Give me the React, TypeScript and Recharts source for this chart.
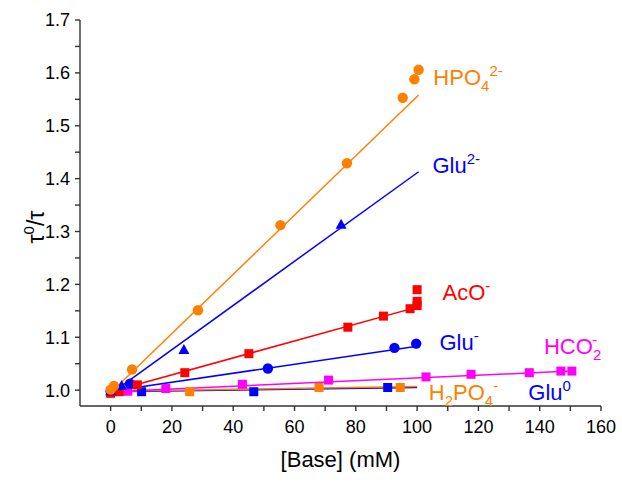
import { ComposedChart, Line, Scatter, XAxis, YAxis, ReferenceDot } from 'recharts';

const ORANGE = '#ff8000';
const BLUE = '#0000ff';
const RED = '#ff0000';
const MAGENTA = '#ff00ff';

// measured points
const hpo4Pts = [
  { x: 0, y: 1.001 }, { x: 1.1, y: 1.008 }, { x: 7, y: 1.039 }, { x: 28.5, y: 1.151 },
  { x: 55.4, y: 1.312 }, { x: 77.1, y: 1.429 }, { x: 95.3, y: 1.553 }, { x: 99.1, y: 1.588 },
  { x: 100.5, y: 1.606 },
];
const glu2Pts = [{ x: 0, y: 0.998 }, { x: 3.6, y: 1.008 }, { x: 23.9, y: 1.076 }, { x: 75.2, y: 1.313 }];
const acoPts = [
  { x: 0, y: 0.994 }, { x: 2.8, y: 0.997 }, { x: 8.7, y: 1.01 }, { x: 24.2, y: 1.033 },
  { x: 45.1, y: 1.069 }, { x: 77.4, y: 1.119 }, { x: 89, y: 1.14 }, { x: 97.7, y: 1.154 },
  { x: 100, y: 1.16 }, { x: 100, y: 1.168 }, { x: 100, y: 1.19 },
];
const gluMinusPts = [
  { x: 0, y: 0.998 }, { x: 6.3, y: 1.012 }, { x: 51.3, y: 1.041 }, { x: 92.6, y: 1.08 }, { x: 99.7, y: 1.088 },
];
const hco2Pts = [
  { x: 0, y: 0.997 }, { x: 5.6, y: 0.998 }, { x: 18, y: 1.003 }, { x: 43, y: 1.011 },
  { x: 71.1, y: 1.019 }, { x: 102.9, y: 1.025 }, { x: 117.6, y: 1.03 }, { x: 136.6, y: 1.033 },
  { x: 146.9, y: 1.036 }, { x: 150.5, y: 1.036 },
];
const h2po4Pts = [{ x: 0, y: 0.998 }, { x: 3.5, y: 0.998 }, { x: 25.8, y: 0.997 }, { x: 68, y: 1.005 }, { x: 94.5, y: 1.005 }];
const glu0Pts = [{ x: 0, y: 0.997 }, { x: 10.1, y: 0.997 }, { x: 46.7, y: 0.997 }, { x: 90.4, y: 1.005 }];

// linear fits (end points)
const hpo4Fit = [{ x: 0, y: 0.995 }, { x: 100.5, y: 1.558 }];
const glu2Fit = [{ x: 0, y: 0.993 }, { x: 100.5, y: 1.413 }];
const acoFit = [{ x: 0, y: 0.997 }, { x: 100, y: 1.157 }];
const gluMinusFit = [{ x: 0, y: 0.998 }, { x: 100, y: 1.083 }];
const hco2Fit = [{ x: 0, y: 0.997 }, { x: 150, y: 1.036 }];
const h2po4Fit = [{ x: 0, y: 0.998 }, { x: 100, y: 1.007 }];
const glu0Fit = [{ x: 0, y: 0.997 }, { x: 100, y: 1.005 }];

const xTicks = [0, 10, 20, 30, 40, 50, 60, 70, 80, 90, 100, 110, 120, 130, 140, 150, 160];
const yTicks = [1.0, 1.05, 1.1, 1.15, 1.2, 1.25, 1.3, 1.35, 1.4, 1.45, 1.5, 1.55, 1.6, 1.65, 1.7];

type Part = [string, 'n' | 'sub' | 'sup', number?];
const labels: { x: number; y: number; color: string; parts: Part[] }[] = [
  { x: 105.3, y: 1.577, color: ORANGE, parts: [['HPO', 'n'], ['4', 'sub'], ['2-', 'sup']] },
  { x: 105, y: 1.41, color: BLUE, parts: [['Glu', 'n'], ['2-', 'sup']] },
  { x: 108.3, y: 1.17, color: RED, parts: [['AcO', 'n'], ['-', 'sup']] },
  { x: 107.3, y: 1.076, color: BLUE, parts: [['Glu', 'n'], ['-', 'sup']] },
  { x: 141.4, y: 1.068, color: MAGENTA, parts: [['HCO', 'n'], ['2', 'sub'], ['-', 'sup', -9]] },
  { x: 103.8, y: 0.981, color: ORANGE, parts: [['H', 'n'], ['2', 'sub'], ['PO', 'n'], ['4', 'sub'], ['-', 'sup']] },
  { x: 136.3, y: 0.981, color: BLUE, parts: [['Glu', 'n'], ['0', 'sup']] },
];

const FONT = '"Liberation Sans", Arial, sans-serif';

function Formula({ cx, cy, color, parts }: { cx: number; cy: number; color: string; parts: Part[] }) {
  let cur = 0;
  const offsets = { n: 0, sub: 6, sup: -9 };
  return (
    <text x={cx} y={cy} fill={color} fontSize={22} fontFamily={FONT}>
      {parts.map(([t, kind, dx], i) => {
        const target = offsets[kind];
        const dy = target - cur;
        cur = target;
        return (
          <tspan key={i} dy={dy} dx={dx ?? 0} fontSize={kind === 'n' ? 22 : 15}>
            {t}
          </tspan>
        );
      })}
    </text>
  );
}

const circle = (color: string) => (p: any) => <circle cx={p.cx} cy={p.cy} r={5.2} fill={color} />;
const square = (color: string) => (p: any) => (
  <rect x={p.cx - 4.5} y={p.cy - 4.5} width={9} height={9} fill={color} />
);
const triangle = (color: string) => (p: any) => (
  <polygon points={`${p.cx},${p.cy - 6} ${p.cx - 5.5},${p.cy + 4} ${p.cx + 5.5},${p.cy + 4}`} fill={color} />
);

function YLabel(props: any) {
  const vb = props.viewBox || { x: 0, y: 0, width: 80, height: 386 };
  const cx = vb.x + 44;
  const cy = vb.y + vb.height / 2 + 14;
  return (
    <text
      x={cx}
      y={cy}
      transform={`rotate(-90 ${cx} ${cy})`}
      textAnchor="middle"
      fontSize={23}
      fontFamily={FONT}
      fill="#000"
    >
      τ<tspan dy={-10} fontSize={15}>0</tspan>
      <tspan dy={10}>/τ</tspan>
    </text>
  );
}

const axisStroke = { stroke: '#333', strokeWidth: 1.4 };

export default function App() {
  return (
    <div>
      <style>{`body{margin:0;background:#fff}`}</style>
      <ComposedChart width={622} height={483} margin={{ top: 20, right: 21, bottom: 0, left: 0 }}>
        <XAxis
          dataKey="x"
          type="number"
          domain={[-10, 160]}
          ticks={xTicks}
          interval={0}
          allowDataOverflow
          height={77}
          tickSize={5}
          tickMargin={9}
          axisLine={axisStroke}
          tickLine={axisStroke}
          tick={{ fill: '#000', fontSize: 18, fontFamily: FONT }}
          tickFormatter={(v: number) => (v % 20 === 0 ? String(v) : '')}
          label={{ value: '[Base] (mM)', position: 'insideBottom', offset: 16, fill: '#000', fontSize: 22, fontFamily: FONT }}
        />
        <YAxis
          dataKey="y"
          type="number"
          domain={[0.97, 1.7]}
          ticks={yTicks}
          interval={0}
          allowDataOverflow
          width={80}
          tickSize={5}
          tickMargin={5}
          axisLine={axisStroke}
          tickLine={axisStroke}
          tick={{ fill: '#000', fontSize: 18, fontFamily: FONT }}
          tickFormatter={(v: number) => (Math.abs(v * 10 - Math.round(v * 10)) < 1e-6 ? v.toFixed(1) : '')}
          label={<YLabel />}
        />
        <Line data={glu0Fit} dataKey="y" type="linear" stroke={BLUE} strokeWidth={1.5} dot={false} isAnimationActive={false} />
        <Line data={h2po4Fit} dataKey="y" type="linear" stroke={ORANGE} strokeWidth={1.5} dot={false} isAnimationActive={false} />
        <Line data={hco2Fit} dataKey="y" type="linear" stroke={MAGENTA} strokeWidth={1.5} dot={false} isAnimationActive={false} />
        <Line data={gluMinusFit} dataKey="y" type="linear" stroke={BLUE} strokeWidth={1.5} dot={false} isAnimationActive={false} />
        <Line data={acoFit} dataKey="y" type="linear" stroke={RED} strokeWidth={1.5} dot={false} isAnimationActive={false} />
        <Line data={glu2Fit} dataKey="y" type="linear" stroke={BLUE} strokeWidth={1.5} dot={false} isAnimationActive={false} />
        <Line data={hpo4Fit} dataKey="y" type="linear" stroke={ORANGE} strokeWidth={1.5} dot={false} isAnimationActive={false} />
        <Scatter data={glu0Pts} dataKey="y" shape={square(BLUE)} isAnimationActive={false} />
        <Scatter data={h2po4Pts} dataKey="y" shape={square(ORANGE)} isAnimationActive={false} />
        <Scatter data={hco2Pts} dataKey="y" shape={square(MAGENTA)} isAnimationActive={false} />
        <Scatter data={gluMinusPts} dataKey="y" shape={circle(BLUE)} isAnimationActive={false} />
        <Scatter data={acoPts} dataKey="y" shape={square(RED)} isAnimationActive={false} />
        <Scatter data={glu2Pts} dataKey="y" shape={triangle(BLUE)} isAnimationActive={false} />
        <Scatter data={hpo4Pts} dataKey="y" shape={circle(ORANGE)} isAnimationActive={false} />
        {labels.map((l, i) => (
          <ReferenceDot
            key={i}
            x={l.x}
            y={l.y}
            ifOverflow="visible"
            shape={(p: any) => <Formula cx={p.cx} cy={p.cy} color={l.color} parts={l.parts} />}
          />
        ))}
      </ComposedChart>
    </div>
  );
}
